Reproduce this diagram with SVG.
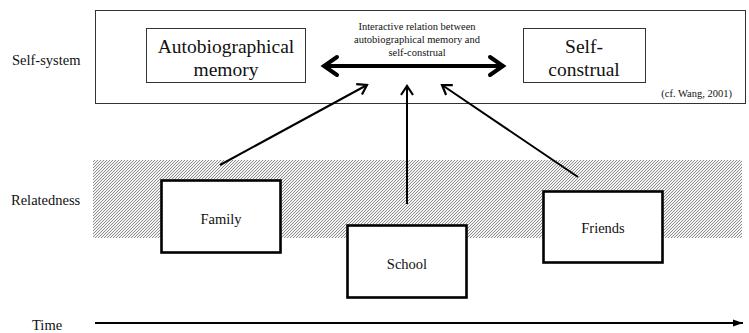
<svg xmlns="http://www.w3.org/2000/svg" width="749" height="333" viewBox="0 0 749 333" font-family="'Liberation Serif', Tinos, 'Times New Roman', 'DejaVu Serif', serif">
<style>
text{font-family:'Liberation Serif', Tinos, 'Times New Roman', 'DejaVu Serif', serif;fill:#111;}
.lbl{font-size:14.5px;}
.big{font-size:19.5px;text-anchor:middle;}
.small{font-size:10.5px;text-anchor:middle;}
.thin{fill:#fff;stroke:#333;stroke-width:1;}
.thick{fill:#fff;stroke:#000;stroke-width:2.6;}
.node{font-size:14.5px;text-anchor:middle;}
.conn{stroke:#000;stroke-width:2;fill:none;}
</style>
<defs>
<pattern id="hatch" patternUnits="userSpaceOnUse" width="3" height="3">
<rect width="3" height="3" fill="#f4f4f4"/>
<path d="M0,3 L3,0 M-1,1 L1,-1 M2,4 L4,2" stroke="#555" stroke-width="0.65"/>
</pattern>
<marker id="chev" viewBox="0 0 12 14" refX="10" refY="7" markerWidth="12" markerHeight="14" markerUnits="userSpaceOnUse" orient="auto-start-reverse">
<path d="M1,1 L10,7 L1,13" fill="none" stroke="#000" stroke-width="2.2"/>
</marker>
<marker id="bigchev" viewBox="0 0 20 24" refX="17" refY="12" markerWidth="20" markerHeight="24" markerUnits="userSpaceOnUse" orient="auto-start-reverse">
<path d="M3,3 L16,12 L3,21" fill="none" stroke="#000" stroke-width="4" stroke-linecap="round"/>
</marker>
<marker id="tri" viewBox="0 0 10 8" refX="10" refY="4" markerWidth="10" markerHeight="8" markerUnits="userSpaceOnUse" orient="auto">
<path d="M0,0.5 L10,4 L0,7.5 z" fill="#000"/>
</marker>
</defs>
<rect width="749" height="333" fill="#fff"/>

<g id="labels">
<text class="lbl" x="12" y="65">Self-system</text>
<text class="lbl" x="11" y="205">Relatedness</text>
<text class="lbl" x="32" y="330">Time</text>
</g>

<g id="self-system">
<rect class="thin" x="95.5" y="10.5" width="650" height="93"/>
<text class="small" x="417" y="30">Interactive relation between</text>
<text class="small" x="417" y="43">autobiographical memory and</text>
<text class="small" x="417" y="56">self-construal</text>
<text font-size="10.5" x="732" y="97" text-anchor="end">(cf. Wang, 2001)</text>
</g>

<g id="autobiographical-memory">
<rect class="thin" x="146.5" y="28.5" width="159" height="54"/>
<text class="big" x="226" y="53">Autobiographical</text>
<text class="big" x="226" y="76">memory</text>
</g>

<g id="self-construal">
<rect class="thin" x="523.5" y="28.5" width="122" height="54"/>
<text class="big" x="584" y="53">Self-</text>
<text class="big" x="584" y="76">construal</text>
</g>

<g id="relatedness-band">
<rect x="93" y="160" width="649" height="78" fill="url(#hatch)"/>
</g>

<g id="family">
<rect class="thick" x="161.5" y="180.5" width="119" height="72"/>
<text class="node" x="221" y="224">Family</text>
</g>

<g id="school">
<rect class="thick" x="347.5" y="225.5" width="119" height="72"/>
<text class="node" x="407" y="269">School</text>
</g>

<g id="friends">
<rect class="thick" x="543.5" y="191.5" width="119" height="71"/>
<text class="node" x="603" y="233">Friends</text>
</g>

<g id="connectors">
<line x1="323" y1="66" x2="504" y2="66" stroke="#000" stroke-width="4" marker-start="url(#bigchev)" marker-end="url(#bigchev)"/>
<line class="conn" x1="220" y1="165" x2="367" y2="85" marker-end="url(#chev)"/>
<line class="conn" x1="407" y1="204" x2="407" y2="86" marker-end="url(#chev)"/>
<line class="conn" x1="578" y1="177" x2="442" y2="85" marker-end="url(#chev)"/>
<line x1="95" y1="323" x2="743" y2="323" stroke="#000" stroke-width="2" marker-end="url(#tri)"/>
</g>
</svg>
